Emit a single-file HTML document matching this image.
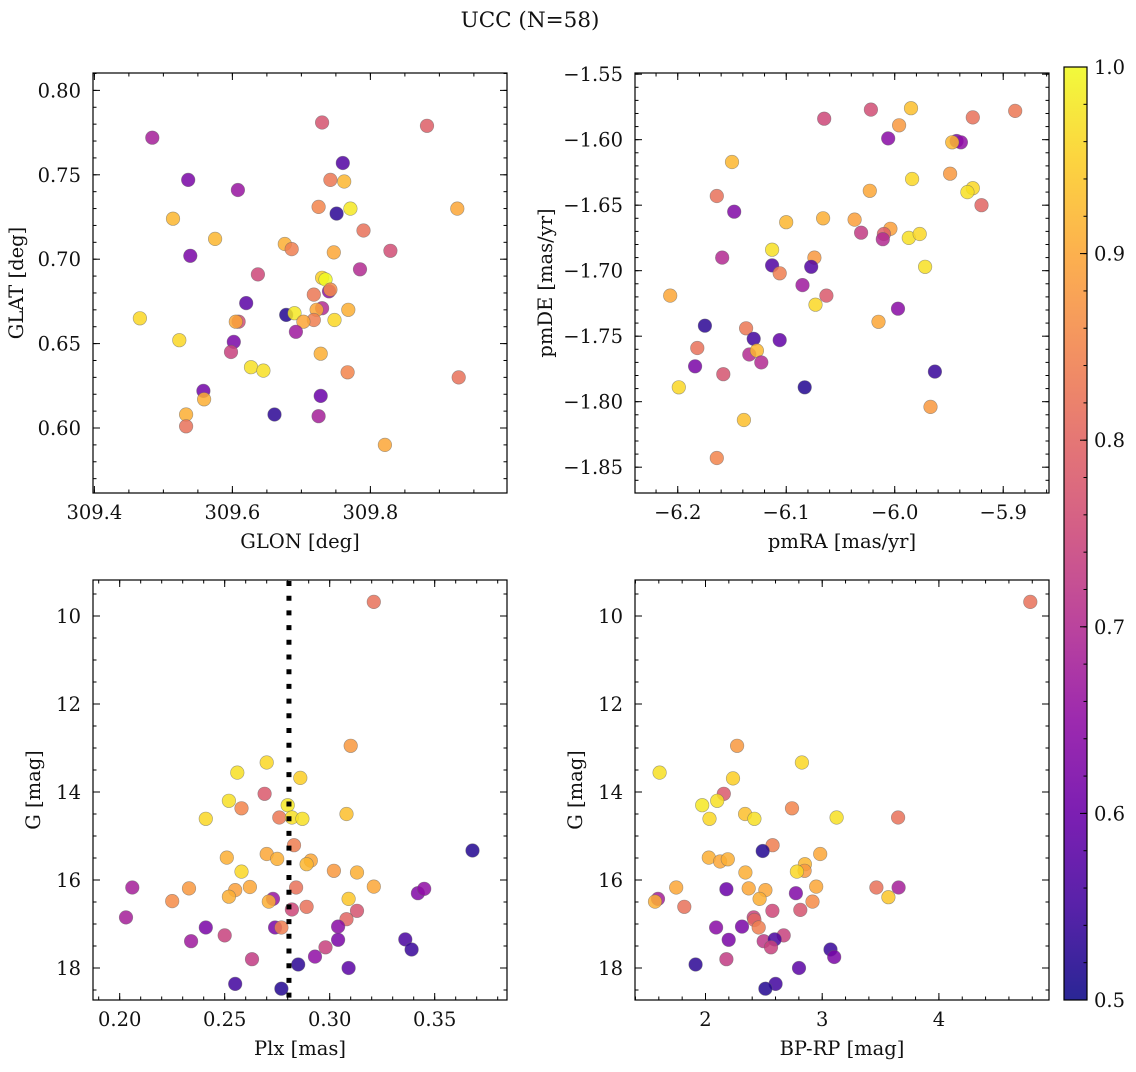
<!DOCTYPE html>
<html><head><meta charset="utf-8"><style>
html,body{margin:0;padding:0;background:#fff}
svg text{font-family:"DejaVu Serif","Liberation Serif",serif;fill:#111}
</style></head><body>
<svg id="c" width="1136" height="1067" viewBox="0 0 1136 1067" xmlns="http://www.w3.org/2000/svg">
<text x="530" y="27" font-size="21.5" text-anchor="middle">UCC (N=58)</text>
</svg>
<script>
// ---- data (per panel: x values, y values, membership probability) ----
const tlLon=[309.484,309.730,309.882,309.760,309.536,309.742,309.762,309.608,309.514,309.725,309.751,309.771,309.926,309.575,309.790,309.676,309.686,309.539,309.747,309.829,309.785,309.637,309.730,309.735,309.740,309.742,309.718,309.620,309.730,309.722,309.466,309.678,309.690,309.768,309.718,309.703,309.748,309.609,309.605,309.692,309.523,309.602,309.598,309.728,309.627,309.645,309.767,309.928,309.558,309.728,309.559,309.533,309.661,309.725,309.533,309.821];
const tlLat=[.772,.781,.779,.757,.747,.747,.746,.741,.724,.731,.727,.730,.730,.712,.717,.709,.706,.702,.704,.705,.694,.691,.689,.688,.681,.682,.679,.674,.671,.670,.665,.667,.668,.670,.664,.663,.664,.663,.663,.657,.652,.651,.645,.644,.636,.634,.633,.630,.622,.619,.617,.608,.608,.607,.601,.590];
const tlProb=[.68,.77,.79,.57,.62,.83,.92,.66,.92,.85,.53,.98,.90,.92,.82,.91,.84,.62,.90,.76,.70,.75,.95,1.0,.65,.86,.83,.58,.70,.90,.96,.52,.98,.91,.84,.90,.96,.76,.90,.67,.96,.62,.74,.91,.97,.97,.85,.82,.61,.60,.91,.91,.53,.68,.82,.90];

const trRA=[-6.065,-6.022,-5.985,-5.889,-5.928,-5.996,-6.006,-5.943,-5.939,-5.947,-6.150,-5.984,-5.949,-5.928,-5.933,-5.920,-6.164,-6.023,-6.148,-6.100,-6.066,-6.037,-6.031,-6.004,-6.010,-6.011,-5.987,-5.977,-6.113,-6.159,-6.074,-6.113,-6.077,-6.106,-5.972,-6.207,-6.085,-6.063,-6.073,-5.997,-6.175,-6.137,-6.015,-6.130,-6.106,-6.182,-6.134,-6.127,-6.123,-6.184,-6.158,-5.963,-6.199,-6.083,-5.967,-6.139,-6.164];
const trDE=[-1.584,-1.577,-1.576,-1.578,-1.583,-1.589,-1.599,-1.601,-1.602,-1.602,-1.617,-1.630,-1.626,-1.637,-1.640,-1.650,-1.643,-1.639,-1.655,-1.663,-1.660,-1.661,-1.671,-1.668,-1.672,-1.676,-1.675,-1.672,-1.684,-1.690,-1.690,-1.696,-1.697,-1.702,-1.697,-1.719,-1.711,-1.719,-1.726,-1.729,-1.742,-1.744,-1.739,-1.752,-1.753,-1.759,-1.764,-1.761,-1.770,-1.773,-1.779,-1.777,-1.789,-1.789,-1.804,-1.814,-1.843];
const trProb=[.75,.76,.93,.83,.82,.88,.64,.62,.65,.92,.92,.96,.88,.96,.97,.80,.82,.90,.63,.92,.91,.89,.73,.89,.79,.70,.97,.96,.97,.70,.88,.57,.57,.84,.97,.90,.67,.78,.96,.64,.53,.83,.90,.55,.59,.82,.70,.92,.70,.62,.77,.54,.96,.52,.88,.93,.85];

const blPlx=[.321,.310,.270,.256,.286,.269,.252,.258,.280,.241,.276,.282,.287,.308,.283,.368,.251,.270,.275,.291,.289,.258,.302,.313,.206,.233,.262,.321,.255,.252,.284,.342,.345,.225,.273,.271,.309,.289,.282,.313,.203,.308,.241,.274,.277,.304,.250,.234,.304,.336,.298,.339,.263,.293,.285,.309,.255,.277];
const blG=[9.68,12.95,13.33,13.56,13.68,14.04,14.20,14.37,14.30,14.61,14.58,14.58,14.61,14.50,15.21,15.33,15.49,15.41,15.52,15.56,15.64,15.81,15.79,15.83,16.17,16.19,16.16,16.15,16.23,16.38,16.17,16.30,16.20,16.48,16.43,16.49,16.43,16.61,16.67,16.70,16.85,16.89,17.08,17.08,17.08,17.06,17.26,17.39,17.36,17.35,17.53,17.58,17.80,17.74,17.92,18.00,18.36,18.47];
const blProb=[.82,.88,.96,.97,.95,.78,.97,.85,.98,.96,.83,.97,.97,.93,.84,.52,.91,.90,.91,.90,.92,.96,.88,.91,.68,.88,.90,.90,.89,.91,.82,.63,.65,.86,.66,.91,.94,.82,.75,.77,.68,.80,.62,.62,.84,.64,.74,.67,.62,.56,.74,.54,.73,.65,.53,.58,.55,.52];
const plxLine=[0.2806];

const brCol=[4.783,2.271,2.826,1.607,2.236,2.157,2.100,1.972,2.741,2.034,2.339,2.419,3.123,3.650,2.575,2.490,2.983,2.028,2.125,2.191,2.852,2.849,2.783,2.342,1.749,2.179,2.370,2.513,2.949,3.464,3.655,2.775,3.567,1.593,1.567,2.464,2.917,1.818,2.573,2.812,2.413,2.419,2.456,2.091,2.313,2.670,2.199,2.499,2.593,2.561,3.071,3.103,2.179,1.915,2.801,2.601,2.513];
const brG=[9.68,12.95,13.33,13.56,13.69,14.04,14.20,14.30,14.37,14.61,14.50,14.61,14.58,14.58,15.21,15.34,15.41,15.49,15.58,15.53,15.64,15.79,15.81,15.83,16.17,16.21,16.19,16.23,16.15,16.17,16.17,16.30,16.39,16.43,16.49,16.43,16.49,16.61,16.70,16.68,16.85,16.91,17.08,17.08,17.06,17.26,17.36,17.39,17.35,17.53,17.58,17.75,17.80,17.92,18.00,18.36,18.47];
const brProb=[.82,.88,.96,.97,.95,.78,.97,.98,.85,.96,.93,.97,.97,.82,.84,.52,.90,.91,.90,.91,.92,.88,.96,.91,.90,.60,.90,.90,.90,.82,.68,.63,.94,.68,.91,.91,.86,.82,.75,.77,.74,.80,.84,.64,.62,.74,.62,.72,.56,.74,.54,.62,.73,.53,.58,.55,.52];

const cbTicks=[0.5,0.6,0.7,0.8,0.9,1.0];

const NS='http://www.w3.org/2000/svg';
const svg=document.getElementById('c');
const FS=19.5;
function mk(tag,attrs,parent){const e=document.createElementNS(NS,tag);for(const k in attrs)e.setAttribute(k,attrs[k]);(parent||svg).appendChild(e);return e;}
const stops=[[0,'#0d0887'],[.1,'#41049d'],[.2,'#6a00a8'],[.3,'#8f0da4'],[.4,'#b12a90'],[.5,'#cc4778'],[.6,'#e16462'],[.7,'#f2844b'],[.8,'#fca636'],[.9,'#fcce25'],[1,'#f0f921']];
function hex(h){return [1,3,5].map(i=>parseInt(h.substr(i,2),16));}
function plasma(t){t=Math.max(0,Math.min(1,t));for(let i=0;i<stops.length-1;i++){const a=stops[i],b=stops[i+1];if(t<=b[0]){const f=(t-a[0])/(b[0]-a[0]);const A=hex(a[1]),B=hex(b[1]);return 'rgb('+A.map((v,j)=>Math.round(v+(B[j]-v)*f)).join(',')+')';}}return stops[10][1];}

function panel(p){
  const g=mk('g',{});
  
  
  const sx=v=>p.x0+(v-p.xmin)/(p.xmax-p.xmin)*(p.x1-p.x0);
  const sy=v=>p.yinv? p.y0+(v-p.ymin)/(p.ymax-p.ymin)*(p.y1-p.y0) : p.y1-(v-p.ymin)/(p.ymax-p.ymin)*(p.y1-p.y0);
  const pg=mk('g',{},g);
  
  
  p.xs.forEach((xv,i)=>{
    const c=mk('circle',{cx:sx(xv).toFixed(1),cy:sy(p.ys[i]).toFixed(1),r:6.8,fill:plasma((p.cs[i]-0.5)/0.5),'fill-opacity':0.85,stroke:'#666','stroke-opacity':0.6,'stroke-width':0.6},pg);
    
    
  });
  if(p.extra)p.extra(g,sx,sy);
  const fr=mk('rect',{x:p.x0,y:p.y0,width:p.x1-p.x0,height:p.y1-p.y0,fill:'none',stroke:'#000','stroke-width':1.2},g);
  
  
  const tg=mk('g',{stroke:'#000','stroke-width':1},g);
  function xt(v,L){const X=sx(v);if(X<p.x0-0.5||X>p.x1+0.5)return;mk('line',{x1:X,x2:X,y1:p.y1,y2:p.y1-L},tg);mk('line',{x1:X,x2:X,y1:p.y0,y2:p.y0+L},tg);}
  function yt(v,L){const Y=sy(v);if(Y<p.y0-0.5||Y>p.y1+0.5)return;mk('line',{x1:p.x0,x2:p.x0+L,y1:Y,y2:Y},tg);mk('line',{x1:p.x1,x2:p.x1-L,y1:Y,y2:Y},tg);}
  const lo=Math.min(p.xmin,p.xmax),hi=Math.max(p.xmin,p.xmax);
  for(let v=Math.ceil(lo/p.xminor-1e-6)*p.xminor;v<=hi+1e-9;v+=p.xminor)xt(v,3.5);
  const ylo=Math.min(p.ymin,p.ymax),yhi=Math.max(p.ymin,p.ymax);
  for(let v=Math.ceil(ylo/p.yminor-1e-6)*p.yminor;v<=yhi+1e-9;v+=p.yminor)yt(v,3.5);
  p.xticks.forEach((v,i)=>{xt(v,7);const t=mk('text',{x:sx(v),y:p.y1+26,'font-size':FS,'text-anchor':'middle'},g);t.textContent=p.xlab[i];});
  p.yticks.forEach((v,i)=>{yt(v,7);const t=mk('text',{x:p.x0-12,y:sy(v)+7,'font-size':FS,'text-anchor':'end'},g);t.textContent=p.ylab[i];});
  const xl=mk('text',{x:(p.x0+p.x1)/2,y:p.y1+55,'font-size':FS,'text-anchor':'middle'},g);xl.textContent=p.xtitle;
  
  
  const yl=mk('text',{x:0,y:0,'font-size':FS,'text-anchor':'middle',transform:`translate(${p.ytx},${(p.y0+p.y1)/2}) rotate(-90)`},g);yl.textContent=p.ytitle;
  
  
}
const minus=s=>s.replace('-','\u2212');
panel({name:'glon-glat-panel',x0:93,x1:507,y0:73,y1:493,xmin:309.398,xmax:309.998,ymin:0.5615,ymax:0.8103,xs:tlLon,ys:tlLat,cs:tlProb,
  xminor:0.05,yminor:0.01,xticks:[309.4,309.6,309.8],xlab:['309.4','309.6','309.8'],yticks:[0.6,0.65,0.7,0.75,0.8],ylab:['0.60','0.65','0.70','0.75','0.80'],xtitle:'GLON [deg]',ytitle:'GLAT [deg]',ytx:23});
panel({name:'pm-panel',x0:635,x1:1049,y0:73,y1:493,xmin:-6.2394,xmax:-5.8578,ymin:-1.8697,ymax:-1.5491,xs:trRA,ys:trDE,cs:trProb,
  xminor:0.02,yminor:0.01,xticks:[-6.2,-6.1,-6.0,-5.9],xlab:['-6.2','-6.1','-6.0','-5.9'].map(minus),yticks:[-1.85,-1.8,-1.75,-1.7,-1.65,-1.6,-1.55],ylab:['-1.85','-1.80','-1.75','-1.70','-1.65','-1.60','-1.55'].map(minus),xtitle:'pmRA [mas/yr]',ytitle:'pmDE [mas/yr]',ytx:552});
panel({name:'plx-g-panel',x0:93,x1:507,y0:580,y1:1000,xmin:0.18729,xmax:0.38443,ymin:9.182,ymax:18.727,yinv:true,xs:blPlx,ys:blG,cs:blProb,
  xminor:0.01,yminor:0.5,xticks:[0.2,0.25,0.3,0.35],xlab:['0.20','0.25','0.30','0.35'],yticks:[10,12,14,16,18],ylab:['10','12','14','16','18'],xtitle:'Plx [mas]',ytitle:'G [mag]',ytx:40,
  extra:(g,sx,sy)=>{plxLine.forEach(v=>{const l=mk('line',{x1:sx(v),x2:sx(v),y1:581,y2:1000,stroke:'#000','stroke-width':5,'stroke-dasharray':'5 9.7'},g);});}});
panel({name:'cmd-panel',x0:635,x1:1049,y0:580,y1:1000,xmin:1.3959,xmax:4.9434,ymin:9.182,ymax:18.727,yinv:true,xs:brCol,ys:brG,cs:brProb,
  xminor:0.2,yminor:0.5,xticks:[2,3,4],xlab:['2','3','4'],yticks:[10,12,14,16,18],ylab:['10','12','14','16','18'],xtitle:'BP-RP [mag]',ytitle:'G [mag]',ytx:582});

const defs=mk('defs',{});const lg=mk('linearGradient',{id:'pg',x1:0,y1:1,x2:0,y2:0},defs);
for(let i=0;i<=20;i++){mk('stop',{offset:i/20,'stop-color':plasma(i/20),'stop-opacity':0.88},lg);}
const cb=mk('g',{});


const cy=v=>1000-(v-0.5)/0.5*933;
mk('rect',{x:1064,y:67,width:23,height:933,fill:'url(#pg)',stroke:'#000','stroke-width':1.2},cb);
for(let v=0.5;v<=1.0001;v+=0.02){mk('line',{x1:1087,x2:1083.5,y1:cy(v),y2:cy(v),stroke:'#000'},cb);}
cbTicks.forEach(v=>{mk('line',{x1:1087,x2:1080,y1:cy(v),y2:cy(v),stroke:'#000'},cb);const t=mk('text',{x:1094,y:cy(v)+7,'font-size':FS},cb);t.textContent=v.toFixed(1);});
</script>
</body></html>
